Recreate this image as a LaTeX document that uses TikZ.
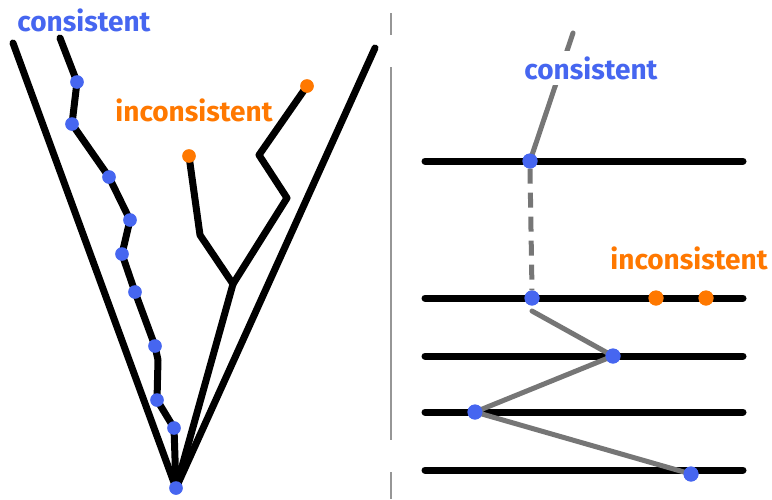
\documentclass[tikz,border=0pt]{standalone}
\usepackage{fontspec}
\setmainfont{Fira Sans}
\definecolor{cblue}{RGB}{70,102,240}
\definecolor{corange}{RGB}{255,120,0}
\definecolor{cgray}{RGB}{118,118,118}
\definecolor{dgray}{RGB}{150,150,150}
\begin{document}
\begin{tikzpicture}[x=1pt,y=-1pt,
  blk/.style={line width=7pt, line cap=round, line join=round},
  gry/.style={line width=5pt, draw=cgray, line cap=round, line join=round},
  divider/.style={line width=2.5pt, draw=dgray},
  bdot/.style={circle, fill=cblue, inner sep=0pt, minimum size=13pt},
  odot/.style={circle, fill=corange, inner sep=0pt, minimum size=13pt},
  lbl/.style={font=\fontsize{28}{30}\selectfont\bfseries, inner sep=0pt}]
\useasboundingbox (0,0) rectangle (772,499);

% ---------- left panel ----------
\coordinate (A) at (176,488);
\coordinate (L1) at (13,43);
\coordinate (L2) at (375,48);
\coordinate (c0) at (60,38);
\coordinate (k) at (158,360);
\coordinate (i1) at (200,235);
\coordinate (J) at (233,284);
\coordinate (i2) at (259,155);
\coordinate (i3) at (287,198);

\node[bdot] (d1) at (77,82) {};
\node[bdot] (d2) at (72,124) {};
\node[bdot] (d3) at (109,177) {};
\node[bdot] (d4) at (130,220) {};
\node[bdot] (d5) at (122,254) {};
\node[bdot] (d6) at (135,292) {};
\node[bdot] (d7) at (155,346) {};
\node[bdot] (d8) at (157,400) {};
\node[bdot] (d9) at (174,428) {};
\node[bdot] (d10) at (176,488) {};
\node[odot] (o1) at (189,156) {};
\node[odot] (o2) at (307,86) {};

\draw[blk] (L1) -- (A) -- (L2);
\draw[blk] (c0) -- (d1.center) -- (d2.center) -- (d3.center) -- (d4.center) -- (d5.center)
  -- (d6.center) -- (d7.center) -- (k) -- (d8.center) -- (d9.center) -- (A);
\draw[blk] (o1.center) -- (i1) -- (J) -- (A);
\draw[blk] (o2.center) -- (i2) -- (i3) -- (J);

\foreach \n in {d1,d2,d3,d4,d5,d6,d7,d8,d9,d10}{\fill[cblue] (\n) circle (6.8pt);}
\foreach \n in {o1,o2}{\fill[corange] (\n) circle (6.8pt);}

\node[lbl, text=cblue] (lc) at (84,20) {consistent};
\node[lbl, text=corange] (li) at (194,110) {inconsistent};

% ---------- divider ----------
\coordinate (v1) at (391,13);
\coordinate (v2) at (391,35);
\coordinate (v3) at (391,67);
\coordinate (v4) at (391,440);
\coordinate (v5) at (391,472);
\coordinate (v6) at (391,499);
\draw[divider] (v1) -- (v2);
\draw[divider] (v3) -- (v4);
\draw[divider] (v5) -- (v6);

% ---------- right panel ----------
\foreach \y/\n in {161/1,298/2,356/3,412/4,470/5}{
  \coordinate (h\n a) at (425,\y);
  \coordinate (h\n b) at (743,\y);
  \draw[blk] (h\n a) -- (h\n b);
}
\coordinate (top) at (573,33);
\coordinate (s) at (532,311);
\node[bdot, minimum size=15pt] (R1) at (530,161) {};
\node[bdot, minimum size=15pt] (R2) at (532,298) {};
\node[bdot, minimum size=15pt] (R3) at (613,356) {};
\node[bdot, minimum size=15pt] (R4) at (475,412) {};
\node[bdot, minimum size=15pt] (R5) at (691,474) {};
\node[odot, minimum size=15pt] (O1) at (656,298) {};
\node[odot, minimum size=15pt] (O2) at (706,298) {};

\draw[gry] (top) -- (R1.center);
\draw[gry, line cap=butt, dash pattern=on 15pt off 9pt] (R1.south) -- (R2.north);
\draw[gry] (s) -- (R3.center) -- (R4.center) -- (R5.center);

\foreach \n in {R1,R2,R3,R4,R5}{\fill[cblue] (\n) circle (7.5pt);}
\foreach \n in {O1,O2}{\fill[corange] (\n) circle (7.5pt);}

\node[lbl, text=cblue, fill=white, inner xsep=2pt, inner ysep=5pt] (rc) at (591,68) {consistent};
\node[lbl, text=corange] (ri) at (689,258) {inconsistent};
\end{tikzpicture}
\end{document}
